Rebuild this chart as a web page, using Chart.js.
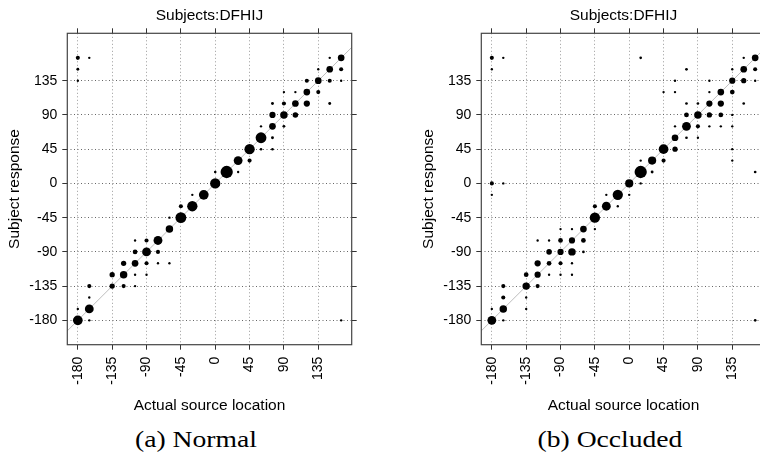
<!DOCTYPE html>
<html>
<head>
<meta charset="utf-8">
<script src="https://cdn.jsdelivr.net/npm/chart.js@4/dist/chart.umd.min.js"></script>
<style>
html,body{margin:0;padding:0;background:#fff;overflow:hidden;width:760px;height:457px;position:relative;}
canvas{position:absolute;top:0;}
#ca{left:0;}
#cb{left:414px;}
.cap{position:absolute;top:428px;font-family:"Liberation Serif","Times New Roman",serif;font-size:23px;line-height:23px;white-space:nowrap;color:#000;transform:translateX(-50%) scaleX(1.2);}
</style>
</head>
<body>
<canvas id="ca" width="390" height="420"></canvas>
<canvas id="cb" width="390" height="420"></canvas>
<div class="cap" style="left:196px">(a) Normal</div>
<div class="cap" style="left:610px">(b) Occluded</div>
<script>
// ---- data ----
const xTicks = [-180, -135, -90, -45, 0, 45, 90, 135];
const yTicks = [-180, -135, -90, -45, 0, 45, 90, 135];
const panelTitle = "Subjects:DFHIJ";
const xTitle = "Actual source location";
const yTitle = "Subject response";

// (a) Normal: actual location, subject response, relative count
const normActual = [-180,-165,-180,-180,
  165,150,150,165,135, 135,120,150,165, 120,135,105,90, 105,120,90,75,150,
  75,90,105, 75,60,90, 75,60, 60,75,45, 30,45, 15,0,30, 0,
  -15,-30, -30,-45, -45,-60, -60, -75,-90,-105, -90,-105,-75,
  -120,-105,-90,-75,-60, -135,-120,-105,-90, -165,-135,-120,-105,
  -165, -180,-165, -180,-165, 165];
const normResponse = [165,165,150,135,
  165,165,150,150,150, 135,135,135,135, 120,120,120,120, 105,105,105,105,105,
  90,90,90, 75,75,75, 60,60, 45,45,45, 30,30, 15,15,15, 0,
  -15,-15, -30,-30, -45,-45, -60, -75,-75,-75, -90,-90,-90,
  -105,-105,-105,-105,-105, -120,-120,-120,-120, -135,-135,-135,-135,
  -150, -165,-165, -180,-180, -180];
const normCount = [3,1,1.5,1,
  8,1,8,3,1, 8,3,3,1, 8,3,1,1, 8,7,3,1.5,1.5,
  7,10,5.5, 8,1,1.5, 1.5,21, 1.2,1.2,19, 14,3, 27,1.2,1, 19,
  17,1, 19,3, 21,1, 10, 14,3,1, 14,4,3,
  5,8,3,1,1, 5,10,1,1, 3,5,3,1,
  1, 1,14, 17,1, 1];

// (b) Occluded
const occActual = [-180,-165,-180,15,
  165,150,150,165,135,75, 135,150,165,105,60, 120,135,105,60,45,
  105,120,90,75,150, 90,75,105,120,135, 75,60,90,105,120,135,
  60,75,90, 45,60,135, 30,15,45,135, 15,30,165, 0,15,
  -180,-165,-180, -15,0,-30, -30,-45,-15, -45,
  -45,-60,-75,-90, -60,-75,-90,-105,-120, -75,-90,-105,-60,
  -120,-105,-90,-75, -135,-120,-105,-90,-75, -165,-135,-120,
  -165,-135, -180,-165,-135, -180,-165, 165];
const occResponse = [165,165,150,165,
  165,165,150,150,150,150, 135,135,135,135,135, 120,120,120,120,120,
  105,105,105,105,105, 90,90,90,90,90, 75,75,75,75,75,75,
  60,60,60, 45,45,45, 30,30,30,30, 15,15,15, 0,0,
  0,0,-15, -15,-15,-15, -30,-30,-30, -45,
  -60,-60,-60,-60, -75,-75,-75,-75,-75, -90,-90,-90,-90,
  -105,-105,-105,-105, -120,-120,-120,-120,-120, -135,-135,-135,
  -150,-150, -165,-165,-165, -180,-180, -180];
const occCount = [3,1,1,1.3,
  8,1,8,3,1,1.3, 7,5,1,1,1, 8,4,1,1,1,
  7,7,1.3,1.3,1.3, 10,4,5,4,1, 14,1,3,1,1,1,
  8,1.3,1, 17,5,1, 12,1,3,1, 27,1.5,1.3, 12,1,
  3,1,1, 19,1,1, 14,3,1, 19,
  1,8,1,1, 4,7,4,1,1, 10,7,5.5,1.3,
  7,4,3,1, 4,7,1,1,1, 3,10,3,
  3,1, 1,10,1, 14,1, 1.3];

const xRange = [-193.8, 178.8];
const yRange = [-212, 197.3];

// ---- drawing ----
const sans = '"Liberation Sans", Arial, Helvetica, sans-serif';
const tickFont = {family: sans, size: 14};
const titleFont = {family: sans, size: 15.5, weight: 'normal'};

const framePlugin = {
  id: 'frame',
  afterDatasetsDraw(chart) {
    const a = chart.chartArea, ctx = chart.ctx;
    ctx.save();
    ctx.strokeStyle = '#444';
    ctx.lineWidth = 1.2;
    ctx.setLineDash([]);
    ctx.strokeRect(a.left, a.top, a.right - a.left, a.bottom - a.top);
    ctx.restore();
  }
};

const setTicks = vals => s => { s.ticks = vals.map(v => ({value: v})); };

function makeChart(id, ax, ay, n) {
  const pts = ax.map((x, i) => ({x: x, y: ay[i], r: 1.18 * Math.sqrt(n[i])}));
  const gridCommon = {
    color: '#8a8a8a', lineWidth: 1, tickLength: 5, tickColor: '#333',
    tickWidth: 1, tickBorderDash: []
  };
  return new Chart(document.getElementById(id), {
    type: 'bubble',
    data: {
      datasets: [
        {
          type: 'line',
          data: [{x: yRange[0], y: yRange[0]}, {x: yRange[1], y: yRange[1]}],
          borderColor: '#bdbdbd', borderWidth: 1, pointRadius: 0, order: 2
        },
        {
          data: pts,
          backgroundColor: '#000', borderWidth: 0, hoverRadius: 0, order: 1
        }
      ]
    },
    options: {
      responsive: false,
      animation: false,
      events: [],
      layout: {padding: 0},
      plugins: {
        legend: {display: false},
        tooltip: {enabled: false},
        title: {
          display: true, text: panelTitle, fullSize: false, color: '#000',
          font: titleFont, padding: {top: 6.5, bottom: 3.2}
        }
      },
      scales: {
        x: {
          type: 'linear', position: 'bottom', min: xRange[0], max: xRange[1],
          afterBuildTicks: setTicks(xTicks),
          afterFit: s => { s.height = 75.3; },
          ticks: {minRotation: 90, maxRotation: 90, padding: 7, color: '#000', font: tickFont},
          grid: Object.assign({}, gridCommon, {color: '#9a9a9a'}),
          border: {display: false, dash: [1, 2.5]},
          title: {display: true, text: xTitle, color: '#000', font: titleFont, padding: {top: 0, bottom: 5}}
        },
        y: {
          type: 'linear', position: 'left', min: yRange[0], max: yRange[1],
          afterBuildTicks: setTicks(yTicks),
          afterFit: s => { s.width = 67.3; },
          ticks: {padding: 5, color: '#000', font: tickFont},
          grid: Object.assign({}, gridCommon, {color: '#666'}),
          border: {display: false, dash: [1, 2.5]},
          title: {display: true, text: yTitle, color: '#000', font: titleFont, padding: {top: 5, bottom: 0}}
        },
        xt: {
          type: 'linear', position: 'top', min: xRange[0], max: xRange[1],
          afterBuildTicks: setTicks(xTicks),
          afterFit: s => { s.height = 5; },
          ticks: {display: false},
          grid: Object.assign({}, gridCommon, {drawOnChartArea: false}),
          border: {display: false}
        },
        yr: {
          type: 'linear', position: 'right', min: yRange[0], max: yRange[1],
          afterBuildTicks: setTicks(yTicks),
          afterFit: s => { s.width = 38.3; },
          ticks: {display: false},
          grid: Object.assign({}, gridCommon, {drawOnChartArea: false}),
          border: {display: false}
        }
      }
    },
    plugins: [framePlugin]
  });
}

makeChart('ca', normActual, normResponse, normCount);
makeChart('cb', occActual, occResponse, occCount);
</script>
</body>
</html>
